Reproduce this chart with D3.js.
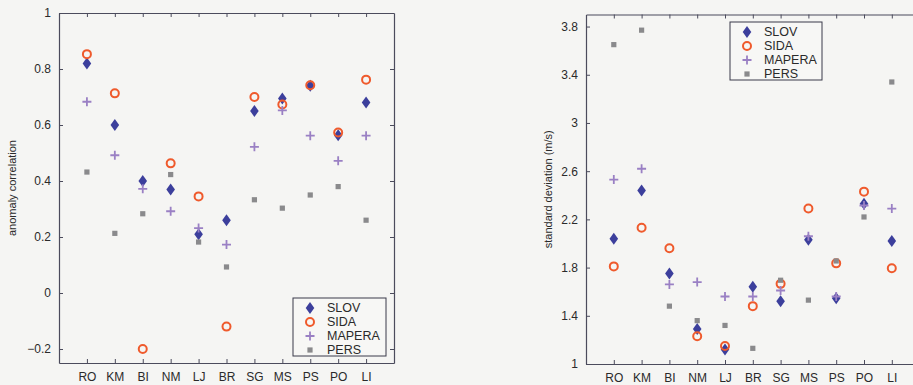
<!DOCTYPE html>
<html>
<head>
<meta charset="utf-8">
<script src="https://cdn.jsdelivr.net/npm/d3@7"></script>
<style>
  html, body { margin: 0; padding: 0; background: #f5f5f3; }
  svg { display: block; }
  text { font-family: "Liberation Sans", Arial, sans-serif; fill: #2a2a2a; }
</style>
</head>
<body>
<svg id="chart" width="913" height="385"></svg>
<script>
// ---------- data ----------
const categories = ["RO", "KM", "BI", "NM", "LJ", "BR", "SG", "MS", "PS", "PO", "LI"];
const seriesNames = ["SLOV", "SIDA", "MAPERA", "PERS"];

// anomaly correlation (left panel)
const corrSLOV   = [0.82, 0.60, 0.40, 0.37, 0.21, 0.26, 0.65, 0.695, 0.74, 0.563, 0.68];
const corrSIDA   = [0.853, 0.713, -0.20, 0.463, 0.345, -0.12, 0.70, 0.673, 0.742, 0.573, 0.762];
const corrMAPERA = [0.683, 0.492, 0.372, 0.292, 0.232, 0.173, 0.522, 0.652, 0.562, 0.472, 0.562];
const corrPERS   = [0.432, 0.213, 0.283, 0.423, 0.182, 0.093, 0.333, 0.303, 0.350, 0.380, 0.260];
const corrTicks  = [-0.2, 0, 0.2, 0.4, 0.6, 0.8, 1];

// standard deviation (right panel)
const sdSLOV   = [2.04, 2.44, 1.75, 1.29, 1.12, 1.64, 1.52, 2.03, 1.545, 2.33, 2.02];
const sdSIDA   = [1.81, 2.13, 1.96, 1.23, 1.15, 1.48, 1.665, 2.29, 1.835, 2.43, 1.795];
const sdMAPERA = [2.53, 2.62, 1.66, 1.68, 1.56, 1.56, 1.61, 2.06, 1.56, 2.315, 2.29];
const sdPERS   = [3.65, 3.77, 1.48, 1.36, 1.32, 1.13, 1.695, 1.53, 1.855, 2.22, 3.34];
const sdTicks  = [1, 1.4, 1.8, 2.2, 2.6, 3, 3.4, 3.8];

// ---------- drawing ----------
const svg = d3.select("#chart");
const axisColor = "#4b4b5c";
const colors = { SLOV: "#3c3f9c", SIDA: "#ef5a2c", MAPERA: "#9a80c4", PERS: "#8a8a8c" };

function drawMarker(g, name, x, y) {
  if (name === "SLOV") {
    g.append("path").attr("d", `M${x},${y-6}L${x+4.3},${y}L${x},${y+6}L${x-4.3},${y}Z`)
      .attr("fill", colors.SLOV);
  } else if (name === "SIDA") {
    g.append("circle").attr("cx", x).attr("cy", y).attr("r", 4)
      .attr("fill", "none").attr("stroke", colors.SIDA).attr("stroke-width", 2);
  } else if (name === "MAPERA") {
    g.append("path").attr("d", `M${x-4.5},${y}H${x+4.5}M${x},${y-4.5}V${y+4.5}`)
      .attr("stroke", colors.MAPERA).attr("stroke-width", 1.8).attr("fill", "none");
  } else {
    g.append("rect").attr("x", x - 2.6).attr("y", y - 2.6).attr("width", 5.2).attr("height", 5.2)
      .attr("fill", colors.PERS);
  }
}

function panel(opts) {
  const { left, right, top, bottom, yDomain, yTicks, yLabel, data, legend } = opts;
  const x = d3.scaleLinear().domain([0, categories.length + 1]).range([left, right]);
  const y = d3.scaleLinear().domain(yDomain).range([bottom, top]);
  const g = svg.append("g");

  // axes (MATLAB-like box with inward ticks)
  const xAxis = d3.axisBottom(x).tickValues(d3.range(1, categories.length + 1))
    .tickFormat(i => categories[i - 1]).tickSizeInner(-4).tickSizeOuter(0).tickPadding(9);
  const xAxisTop = d3.axisTop(x).tickValues(d3.range(1, categories.length + 1))
    .tickFormat("").tickSizeInner(-4).tickSizeOuter(0);
  const yAxis = d3.axisLeft(y).tickValues(yTicks).tickFormat(d3.format("~g"))
    .tickSizeInner(-4).tickSizeOuter(0).tickPadding(8);
  const yAxisRight = d3.axisRight(y).tickValues(yTicks).tickFormat("")
    .tickSizeInner(-4).tickSizeOuter(0);

  const styleAxis = sel => {
    sel.select(".domain").attr("stroke", axisColor).attr("stroke-width", 1.2);
    sel.selectAll(".tick line").attr("stroke", axisColor);
    sel.selectAll(".tick text").attr("font-size", 12).attr("fill", "#2a2a2a")
      .attr("font-family", "Liberation Sans, Arial, sans-serif");
  };
  g.append("g").attr("transform", `translate(0,${bottom})`).call(xAxis).call(styleAxis);
  g.append("g").attr("transform", `translate(0,${top})`).call(xAxisTop).call(styleAxis);
  g.append("g").attr("transform", `translate(${left},0)`).call(yAxis).call(styleAxis);
  g.append("g").attr("transform", `translate(${right},0)`).call(yAxisRight).call(styleAxis);

  g.append("text")
    .attr("transform", `translate(${left - opts.labelOffset},${(top + bottom) / 2}) rotate(-90)`)
    .attr("text-anchor", "middle").attr("font-size", 11).text(yLabel);

  // markers
  const mg = g.append("g");
  seriesNames.forEach((name, si) => {
    data[si].forEach((v, i) => drawMarker(mg, name, x(i + 1), y(v)));
  });

  // legend
  const lg = g.append("g");
  lg.append("rect").attr("x", legend.x).attr("y", legend.y).attr("width", legend.w).attr("height", legend.h)
    .attr("fill", "#f7f7f5").attr("stroke", "#3a3a4a").attr("stroke-width", 1);
  seriesNames.forEach((name, i) => {
    const yy = legend.y + 10 + i * 14;
    drawMarker(lg, name, legend.x + 17, yy);
    lg.append("text").attr("x", legend.x + 34).attr("y", yy).attr("dy", "0.35em")
      .attr("font-size", 12.5).text(name);
  });
}

panel({
  left: 59, right: 394, top: 13, bottom: 363,
  yDomain: [-0.25, 1], yTicks: corrTicks, yLabel: "anomaly correlation", labelOffset: 43,
  data: [corrSLOV, corrSIDA, corrMAPERA, corrPERS],
  legend: { x: 293, y: 298, w: 93, h: 58 }
});

panel({
  left: 586, right: 919.6, top: 14.5, bottom: 364,
  yDomain: [1, 3.9], yTicks: sdTicks, yLabel: "standard deviation (m/s)", labelOffset: 34,
  data: [sdSLOV, sdSIDA, sdMAPERA, sdPERS],
  legend: { x: 730, y: 22, w: 92, h: 58 }
});
</script>
</body>
</html>
